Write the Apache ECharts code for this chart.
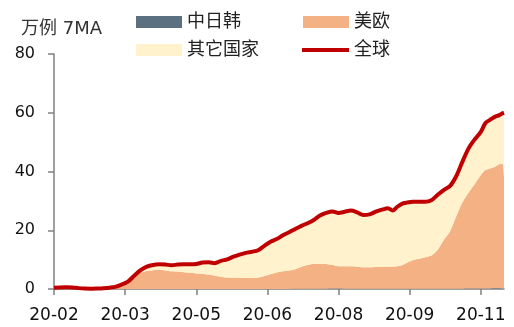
<!DOCTYPE html>
<html>
<head>
<meta charset="utf-8">
<script src="https://cdn.jsdelivr.net/npm/echarts@6/dist/echarts.min.js"></script>
<style>html,body{margin:0;padding:0;background:#fff}#c{width:514px;height:327px}</style>
</head>
<body>
<div id="c"></div>
<script>
// Day index (days since 2020-02-01) of each sampled reading
const days = [0,4,8,12,16,20,24,28,32,36,40,44,48,52,56,60,64,68,72,76,80,84,88,92,96,100,104,108,112,116,120,124,128,132,136,140,144,148,152,156,160,164,168,172,176,180,184,188,192,196,200,204,208,212,216,219,222,225,228,232,236,240,244,248,252,256,260,264,268,272,276,279,282,285,288,290,291];
// 中日韩 (万例, 7MA)
const cjk = [0.40,0.48,0.52,0.45,0.22,0.08,0.06,0.07,0.08,0.07,0.05,0.04,0.03,0.03,0.03,0.02,0.02,0.02,0.02,0.02,0.02,0.02,0.01,0.01,0.01,0.01,0.01,0.01,0.01,0.01,0.01,0.02,0.02,0.02,0.02,0.02,0.03,0.03,0.04,0.05,0.06,0.07,0.09,0.10,0.12,0.13,0.13,0.12,0.11,0.10,0.09,0.08,0.07,0.06,0.06,0.06,0.06,0.06,0.06,0.06,0.06,0.07,0.07,0.08,0.09,0.10,0.11,0.12,0.14,0.16,0.18,0.19,0.21,0.22,0.24,0.25,0.25];
// 美欧
const usEu = [0.02,0.03,0.03,0.03,0.03,0.03,0.03,0.05,0.10,0.25,0.55,1.30,2.20,4.00,5.50,6.10,6.40,6.50,6.30,6.00,5.90,5.70,5.50,5.30,5.20,4.90,4.50,4.20,3.90,3.80,3.70,3.70,3.80,3.90,4.40,5.00,5.60,6.00,6.30,6.70,7.50,8.10,8.40,8.40,8.40,8.00,7.60,7.60,7.60,7.50,7.30,7.30,7.40,7.40,7.50,7.60,7.70,8.00,8.80,9.70,10.20,10.70,11.30,13.20,16.60,19.50,24.50,29.20,32.60,35.50,38.60,40.30,40.80,41.30,42.20,42.40,38.00];
// 其它国家
const others = [0.03,0.04,0.05,0.07,0.05,0.04,0.03,0.03,0.07,0.13,0.20,0.26,0.37,0.57,0.87,1.48,1.78,1.88,1.98,2.08,2.38,2.68,2.89,3.19,3.79,4.19,4.29,5.39,6.19,7.19,7.99,8.58,8.88,9.28,10.28,11.08,11.37,12.27,12.96,13.65,13.94,14.23,15.01,16.50,17.38,18.27,18.17,18.58,18.99,18.50,17.81,18.02,18.83,19.54,19.94,19.04,20.24,20.94,20.54,19.94,19.44,18.93,18.83,18.72,17.01,15.40,13.69,13.88,15.06,15.24,14.72,16.01,16.59,17.08,16.76,17.15,21.75];
// 全球
const world = [0.45,0.55,0.60,0.55,0.30,0.15,0.12,0.15,0.25,0.45,0.80,1.60,2.60,4.60,6.40,7.60,8.20,8.40,8.30,8.10,8.30,8.40,8.40,8.50,9.00,9.10,8.80,9.60,10.10,11.00,11.70,12.30,12.70,13.20,14.70,16.10,17.00,18.30,19.30,20.40,21.50,22.40,23.50,25.00,25.90,26.40,25.90,26.30,26.70,26.10,25.20,25.40,26.30,27.00,27.50,26.70,28.00,29.00,29.40,29.70,29.70,29.70,30.20,32.00,33.70,35.00,38.30,43.20,47.80,50.90,53.50,56.50,57.60,58.60,59.20,59.80,60.00];
const seriesNames = ['中日韩','美欧','其它国家','全球'];
const yTicks = [0,20,40,60,80];

// daily date categories 2020-02-01 .. 2020-11-18
const categories = [];
const start = new Date(Date.UTC(2020,1,1));
for (let i = 0; i <= 291; i++) {
  const d = new Date(start.getTime() + i*86400000);
  categories.push(d.toISOString().slice(0,10));
}
const pairs = arr => days.map((d,i) => [categories[d], arr[i]]);

const FONT = 'DejaVu Sans, Noto Sans CJK SC, sans-serif';
const chart = echarts.init(document.getElementById('c'), null, {renderer:'canvas'});
const legendBase = {orient:'horizontal', padding:0, itemWidth:46, itemHeight:12, itemGap:5,
  textStyle:{fontSize:18, color:'#222', fontFamily:FONT}};
chart.setOption({
  animation:false,
  backgroundColor:'#fff',
  title:{text:'万例 7MA', left:16, top:15, textStyle:{fontSize:18, fontWeight:'normal', color:'#333', fontFamily:FONT}},
  legend:[
    Object.assign({}, legendBase, {left:136, top:13, data:[{name:seriesNames[0], icon:'rect'}]}),
    Object.assign({}, legendBase, {left:303, top:13, data:[{name:seriesNames[1], icon:'rect'}]}),
    Object.assign({}, legendBase, {left:136, top:41, data:[{name:seriesNames[2], icon:'rect'}]}),
    Object.assign({}, legendBase, {left:302, top:41, itemWidth:47, itemHeight:4, data:[{name:seriesNames[3], icon:'rect'}]})
  ],
  grid:{left:54, right:10, top:54, bottom:38, containLabel:false},
  xAxis:{type:'category', data:categories, boundaryGap:false,
    axisLine:{show:true, lineStyle:{color:'#808080', width:1.5}},
    axisTick:{show:true, interval:45, length:6, lineStyle:{color:'#808080', width:1.5}},
    axisLabel:{interval:45, margin:18, fontSize:17, color:'#111', fontFamily:FONT,
      formatter:v => v.slice(2,7)},
    splitLine:{show:false}},
  yAxis:{type:'value', min:yTicks[0], max:yTicks[yTicks.length-1], interval:20,
    axisLine:{show:true, lineStyle:{color:'#808080', width:1.5}},
    axisTick:{show:true, length:6, lineStyle:{color:'#808080', width:1.5}},
    axisLabel:{margin:19, fontSize:16, color:'#111', fontFamily:FONT},
    splitLine:{show:false}},
  series:[
    {name:seriesNames[0], type:'line', stack:'a', data:pairs(cjk), symbol:'none', smooth:0.3,
      lineStyle:{width:0}, areaStyle:{color:'#5B7080', opacity:1}, itemStyle:{color:'#5B7080'}},
    {name:seriesNames[1], type:'line', stack:'a', data:pairs(usEu), symbol:'none', smooth:0.3,
      lineStyle:{width:0}, areaStyle:{color:'#F4B183', opacity:1}, itemStyle:{color:'#F4B183'}},
    {name:seriesNames[2], type:'line', stack:'a', data:pairs(others), symbol:'none', smooth:0.3,
      lineStyle:{width:0}, areaStyle:{color:'#FFF2CC', opacity:1}, itemStyle:{color:'#FFF2CC'}},
    {name:seriesNames[3], type:'line', data:pairs(world), symbol:'none', smooth:0.3, z:5,
      lineStyle:{width:4, color:'#C00000'}, itemStyle:{color:'#C00000'}}
  ]
});
</script>
</body>
</html>
